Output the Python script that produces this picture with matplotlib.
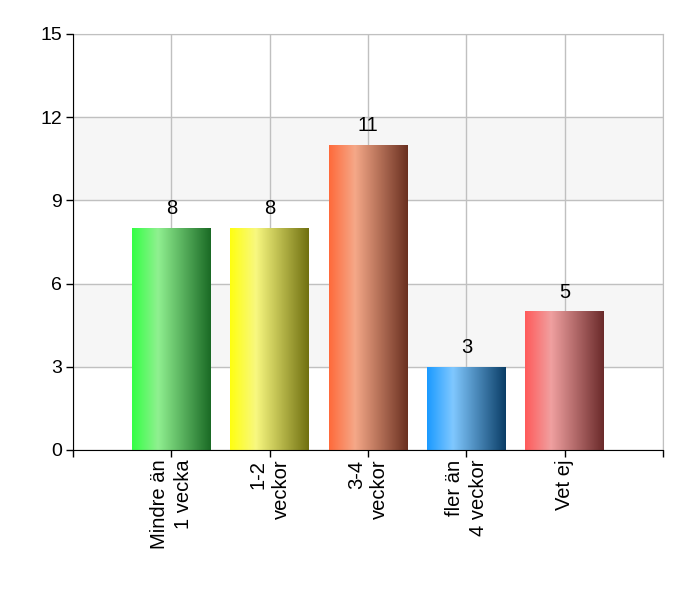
import numpy as np
import matplotlib.pyplot as plt
from matplotlib.colors import LinearSegmentedColormap

plt.rcParams['font.family'] = ['Liberation Sans', 'DejaVu Sans']

# data
categories = ['Mindre än\n1 vecka', '1-2\nveckor', '3-4\nveckor', 'fler än\n4 veckor', 'Vet ej']
values = [8, 8, 11, 3, 5]
# (left, highlight, right) colours of each bar's gradient
bar_colors = [
    ('#33ff44', '#90f090', '#1a6a25'),
    ('#ffff10', '#f8f880', '#707010'),
    ('#ff6a3a', '#f5a888', '#6a3020'),
    ('#1a9aff', '#80c8ff', '#0a3d66'),
    ('#ff5a5a', '#f0a0a0', '#6a2a2a'),
]
y_ticks = [0, 3, 6, 9, 12, 15]

fig = plt.figure(figsize=(7, 6), dpi=100)
ax = fig.add_axes([73 / 700, 150 / 600, 590 / 700, 416 / 600])

x = np.arange(1, len(values) + 1)

# alternating bands
for i in range(len(y_ticks) - 1):
    if i % 2 == 1:
        ax.axhspan(y_ticks[i], y_ticks[i + 1], color='#f6f6f6', zorder=0)

ax.set_yticks(y_ticks)
ax.set_xticks(np.arange(0, len(values) + 2))
ax.set_xticklabels([''] + categories + [''], rotation=90, fontsize=14.5,
                   va='top', ha='center', multialignment='right', linespacing=1.3)
ax.tick_params(axis='y', labelsize=14, length=5, width=1, pad=3)
ax.tick_params(axis='x', length=5, width=1, pad=2)

ax.grid(True, color='#c0c0c0', linewidth=1, zorder=1)
ax.set_axisbelow(True)
for side in ['top', 'right']:
    ax.spines[side].set_color('#c0c0c0')
for side in ['left', 'bottom']:
    ax.spines[side].set_color('black')
    ax.spines[side].set_zorder(5)

bars = ax.bar(x, values, width=0.8, color='none', zorder=3)
grad = np.linspace(0, 1, 256).reshape(1, -1)
for patch, cols, v in zip(bars, bar_colors, values):
    cmap = LinearSegmentedColormap.from_list('g', [(0, cols[0]), (0.33, cols[1]), (1, cols[2])])
    x0, w = patch.get_x(), patch.get_width()
    im = ax.imshow(grad, cmap=cmap, extent=[x0, x0 + w, 0, v], aspect='auto', zorder=3)
    im.set_clip_path(patch)
    ax.annotate(str(v), (x0 + w / 2, v), xytext=(0, 7), textcoords='offset points',
                ha='center', va='bottom', fontsize=14.5)

ax.set_xlim(0, len(values) + 1)
ax.set_ylim(0, 15)

fig.savefig('out.png', dpi=100)
